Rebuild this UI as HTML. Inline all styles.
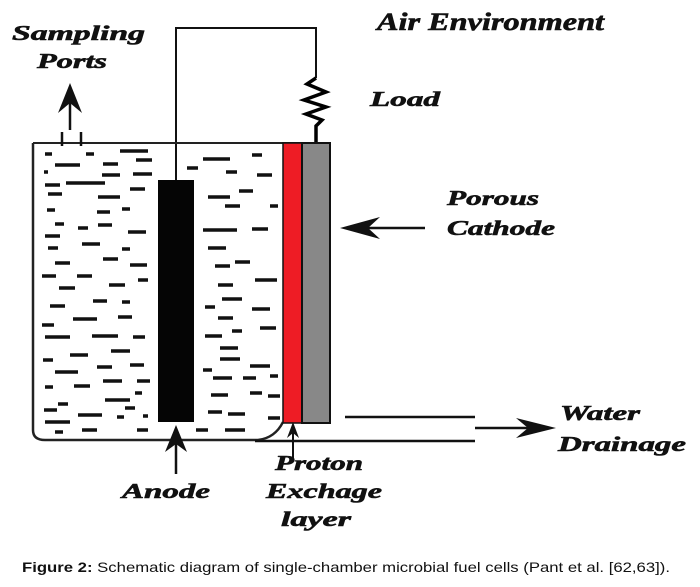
<!DOCTYPE html>
<html><head><meta charset="utf-8"><style>
html,body{margin:0;padding:0;background:#fff;width:700px;height:587px;overflow:hidden}
svg{display:block}
.t{font-family:"Liberation Serif",serif;font-weight:bold;font-style:italic;fill:#111;stroke:#111;stroke-width:0.6}
</style></head><body>
<svg width="700" height="587" viewBox="0 0 700 587">
<polyline points="176,180 176,28 316,28 316,78" fill="none" stroke="#111" stroke-width="2"/>
<path d="M316,78 L307,84 L326,92 L304,100 L326,107 L306,114 L322,120 L316,126 L316,143" fill="none" stroke="#000" stroke-width="3.5"/>
<path d="M33,143 L33,430 Q33,440 45,440 L258,440 Q275,438 283,422" fill="none" stroke="#222" stroke-width="2.5"/>
<line x1="33" y1="143" x2="331" y2="143" stroke="#222" stroke-width="2"/>
<rect x="283" y="143" width="19" height="280" fill="#ee1c25" stroke="#111" stroke-width="1.5"/>
<rect x="302" y="143" width="28" height="280" fill="#888" stroke="#111" stroke-width="2"/>
<rect x="158" y="180" width="36" height="242" fill="#050505"/>
<line x1="62" y1="132" x2="62" y2="146" stroke="#111" stroke-width="2.5"/>
<line x1="81" y1="132" x2="81" y2="146" stroke="#111" stroke-width="2.5"/>
<line x1="70" y1="130" x2="70" y2="100" stroke="#111" stroke-width="2.5"/>
<path d="M70,83 L58,113 L70,103 L82,113 Z" fill="#111"/>
<g stroke="#111" stroke-width="3.5">
<line x1="45" y1="154" x2="52" y2="154"/><line x1="86" y1="154" x2="94" y2="154"/><line x1="120" y1="151" x2="148" y2="151"/>
<line x1="55" y1="165" x2="80" y2="165"/><line x1="103" y1="164" x2="118" y2="164"/><line x1="136" y1="160" x2="152" y2="160"/>
<line x1="44" y1="172" x2="48" y2="172"/><line x1="102" y1="175" x2="120" y2="175"/><line x1="133" y1="174" x2="152" y2="174"/>
<line x1="45" y1="185" x2="60" y2="185"/><line x1="66" y1="183" x2="105" y2="183"/><line x1="130" y1="189" x2="145" y2="189"/>
<line x1="48" y1="194" x2="62" y2="194"/><line x1="98" y1="197" x2="120" y2="197"/>
<line x1="47" y1="210" x2="55" y2="210"/><line x1="97" y1="212" x2="110" y2="212"/><line x1="122" y1="209" x2="130" y2="209"/>
<line x1="55" y1="224" x2="64" y2="224"/><line x1="78" y1="228" x2="88" y2="228"/><line x1="98" y1="225" x2="112" y2="225"/>
<line x1="45" y1="236" x2="60" y2="236"/><line x1="82" y1="244" x2="100" y2="244"/><line x1="128" y1="232" x2="146" y2="232"/>
<line x1="48" y1="248" x2="58" y2="248"/><line x1="122" y1="249" x2="130" y2="249"/>
<line x1="55" y1="263" x2="70" y2="263"/><line x1="103" y1="259" x2="118" y2="259"/><line x1="130" y1="265" x2="147" y2="265"/>
<line x1="42" y1="276" x2="56" y2="276"/><line x1="77" y1="276" x2="92" y2="276"/><line x1="138" y1="280" x2="148" y2="280"/>
<line x1="59" y1="288" x2="75" y2="288"/><line x1="109" y1="285" x2="125" y2="285"/>
<line x1="50" y1="306" x2="65" y2="306"/><line x1="93" y1="301" x2="107" y2="301"/><line x1="122" y1="302" x2="130" y2="302"/>
<line x1="73" y1="319" x2="97" y2="319"/><line x1="118" y1="317" x2="132" y2="317"/>
<line x1="42" y1="325" x2="54" y2="325"/>
<line x1="45" y1="337" x2="70" y2="337"/><line x1="92" y1="336" x2="118" y2="336"/><line x1="133" y1="337" x2="145" y2="337"/>
<line x1="70" y1="355" x2="88" y2="355"/><line x1="111" y1="351" x2="130" y2="351"/>
<line x1="43" y1="360" x2="53" y2="360"/>
<line x1="55" y1="372" x2="78" y2="372"/><line x1="97" y1="367" x2="112" y2="367"/><line x1="130" y1="365" x2="144" y2="365"/>
<line x1="45" y1="387" x2="53" y2="387"/><line x1="74" y1="386" x2="90" y2="386"/><line x1="103" y1="381" x2="122" y2="381"/><line x1="137" y1="381" x2="150" y2="381"/>
<line x1="58" y1="404" x2="68" y2="404"/><line x1="105" y1="400" x2="130" y2="400"/><line x1="135" y1="393" x2="142" y2="393"/>
<line x1="44" y1="410" x2="57" y2="410"/><line x1="78" y1="415" x2="102" y2="415"/><line x1="125" y1="408" x2="135" y2="408"/><line x1="143" y1="416" x2="148" y2="416"/>
<line x1="45" y1="422" x2="70" y2="422"/><line x1="117" y1="417" x2="124" y2="417"/>
<line x1="55" y1="432" x2="63" y2="432"/><line x1="82" y1="430" x2="97" y2="430"/><line x1="137" y1="430" x2="148" y2="430"/>
<line x1="203" y1="159" x2="230" y2="159"/><line x1="252" y1="155" x2="262" y2="155"/>
<line x1="187" y1="168" x2="198" y2="168"/><line x1="226" y1="172" x2="237" y2="172"/><line x1="257" y1="175" x2="272" y2="175"/>
<line x1="239" y1="191" x2="253" y2="191"/><line x1="208" y1="197" x2="230" y2="197"/><line x1="270" y1="206" x2="278" y2="206"/>
<line x1="225" y1="206" x2="240" y2="206"/>
<line x1="203" y1="230" x2="237" y2="230"/><line x1="252" y1="229" x2="268" y2="229"/>
<line x1="208" y1="248" x2="226" y2="248"/><line x1="235" y1="262" x2="250" y2="262"/>
<line x1="215" y1="266" x2="230" y2="266"/><line x1="255" y1="280" x2="277" y2="280"/>
<line x1="218" y1="285" x2="233" y2="285"/><line x1="222" y1="299" x2="242" y2="299"/>
<line x1="205" y1="307" x2="215" y2="307"/><line x1="252" y1="309" x2="270" y2="309"/>
<line x1="218" y1="318" x2="233" y2="318"/><line x1="232" y1="331" x2="242" y2="331"/><line x1="260" y1="328" x2="276" y2="328"/>
<line x1="205" y1="336" x2="222" y2="336"/><line x1="220" y1="348" x2="238" y2="348"/>
<line x1="250" y1="366" x2="270" y2="366"/><line x1="220" y1="359" x2="240" y2="359"/><line x1="203" y1="370" x2="212" y2="370"/>
<line x1="213" y1="378" x2="232" y2="378"/><line x1="243" y1="378" x2="256" y2="378"/><line x1="270" y1="376" x2="278" y2="376"/>
<line x1="211" y1="395" x2="228" y2="395"/><line x1="250" y1="393" x2="262" y2="393"/><line x1="268" y1="396" x2="280" y2="396"/>
<line x1="208" y1="412" x2="222" y2="412"/><line x1="228" y1="414" x2="245" y2="414"/><line x1="268" y1="418" x2="280" y2="418"/>
<line x1="196" y1="430" x2="208" y2="430"/><line x1="225" y1="430" x2="245" y2="430"/>
</g>
<line x1="355" y1="228" x2="425" y2="228" stroke="#111" stroke-width="2.5"/>
<path d="M340,228 L380,217 L368,228 L380,239 Z" fill="#111"/>
<line x1="345" y1="417" x2="475" y2="417" stroke="#111" stroke-width="2.5"/>
<line x1="255" y1="441" x2="475" y2="441" stroke="#111" stroke-width="2.5"/>
<line x1="475" y1="428" x2="540" y2="428" stroke="#111" stroke-width="2.5"/>
<path d="M556,428 L516,418 L528,428 L516,438 Z" fill="#111"/>
<line x1="293" y1="458" x2="293" y2="430" stroke="#111" stroke-width="2"/>
<path d="M293,422 L287,438 L293,433 L299,438 Z" fill="#111"/>
<line x1="176" y1="474" x2="176" y2="440" stroke="#111" stroke-width="2.5"/>
<path d="M176,425 L165,452 L176,444 L187,452 Z" fill="#111"/>
<text class="t" x="12" y="40" font-size="21" textLength="133" lengthAdjust="spacingAndGlyphs">Sampling</text>
<text class="t" x="37" y="68" font-size="21" textLength="70" lengthAdjust="spacingAndGlyphs">Ports</text>
<text class="t" x="377" y="30" font-size="25" textLength="227" lengthAdjust="spacingAndGlyphs" fill="#2a1a1a">Air Environment</text>
<text class="t" x="370" y="106" font-size="21" textLength="70" lengthAdjust="spacingAndGlyphs">Load</text>
<text class="t" x="447" y="205" font-size="21" textLength="92" lengthAdjust="spacingAndGlyphs">Porous</text>
<text class="t" x="447" y="235" font-size="21" textLength="108" lengthAdjust="spacingAndGlyphs">Cathode</text>
<text class="t" x="560" y="420" font-size="21" textLength="80" lengthAdjust="spacingAndGlyphs">Water</text>
<text class="t" x="558" y="451" font-size="21" textLength="128" lengthAdjust="spacingAndGlyphs">Drainage</text>
<text class="t" x="122" y="498" font-size="21" textLength="88" lengthAdjust="spacingAndGlyphs">Anode</text>
<text class="t" x="275" y="470" font-size="21" textLength="88" lengthAdjust="spacingAndGlyphs">Proton</text>
<text class="t" x="266" y="498" font-size="21" textLength="116" lengthAdjust="spacingAndGlyphs">Exchage</text>
<text class="t" x="281" y="526" font-size="21" textLength="70" lengthAdjust="spacingAndGlyphs">layer</text>
<text x="22" y="572" font-family="Liberation Sans, sans-serif" font-size="14" fill="#111" textLength="648" lengthAdjust="spacingAndGlyphs"><tspan font-weight="bold">Figure 2:</tspan> Schematic diagram of single-chamber microbial fuel cells (Pant et al. [62,63]).</text>
</svg>
</body></html>
